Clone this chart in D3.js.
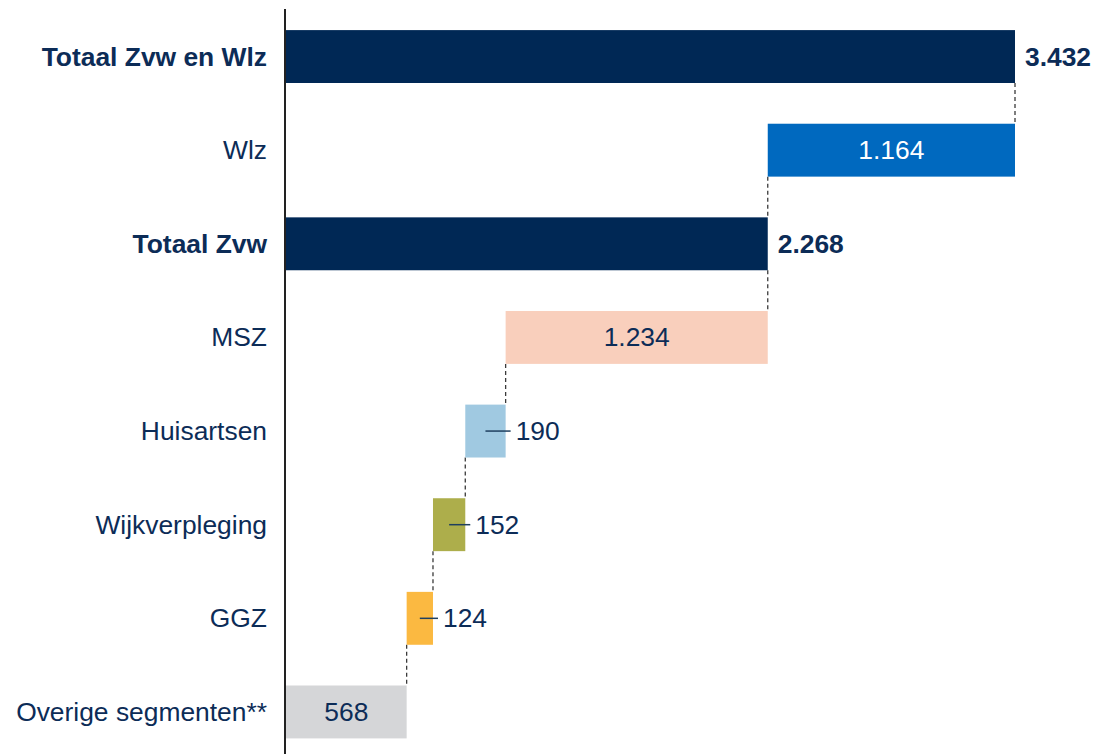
<!DOCTYPE html>
<html>
<head>
<meta charset="utf-8">
<script src="https://cdn.jsdelivr.net/npm/d3@7"></script>
<style>
  body { margin: 0; background: #fff; }
  text { font-family: "Liberation Sans", Arial, sans-serif; }
</style>
</head>
<body>
<svg id="chart"></svg>
<script>
// Data
const categories = ["Totaal Zvw en Wlz", "Wlz", "Totaal Zvw", "MSZ", "Huisartsen", "Wijkverpleging", "GGZ", "Overige segmenten**"];
const values = [3432, 1164, 2268, 1234, 190, 152, 124, 568];
const isTotal = [true, false, true, false, false, false, false, false];
const colors = ["#002855", "#0069bf", "#002855", "#f9cfbc", "#a0c9e1", "#adae4b", "#fbb941", "#d5d6d8"];

const width = 1094, height = 754;
const navy = "#0c2c57";
const fs = 26.4;

const svg = d3.select("#chart").attr("width", width).attr("height", height);

// build waterfall start/end
let level = 0;
const rows = categories.map(function(c, i){
    let s, e;
    if (isTotal[i]) { s = 0; e = values[i]; level = values[i]; }
    else { e = level; s = level - values[i]; level = s; }
    return {name: c, value: values[i], start: s, end: e, total: isTotal[i], color: colors[i]};
});

const x = d3.scaleLinear().domain([0, 3432]).range([286, 1015]);
const y = d3.scaleBand().domain(categories).range([9.5, 759]).paddingInner(0.435).paddingOuter(0.22);

const fmt = d => d3.format(",")(d).replace(/,/g, ".");

// dashed connectors between bars
const conn = svg.append("g");
rows.forEach(function(d, i){
    if (i == 0) return;
    const p = rows[i-1];
    const xv = p.total ? d.end : p.start;
    conn.append("line")
        .attr("x1", x(xv)).attr("x2", x(xv))
        .attr("y1", y(p.name) + y.bandwidth()).attr("y2", y(d.name))
        .attr("stroke", "#3a3a3a").attr("stroke-width", 1.3)
        .attr("stroke-dasharray", "4,3");
});

// bars
svg.append("g").selectAll("rect")
    .data(rows)
    .join("rect")
    .attr("x", d => x(d.start))
    .attr("width", d => x(d.end) - x(d.start))
    .attr("y", d => y(d.name))
    .attr("height", y.bandwidth())
    .attr("fill", d => d.color);

// axis line
svg.append("line")
    .attr("x1", 285).attr("x2", 285).attr("y1", 9).attr("y2", height)
    .attr("stroke", "#222").attr("stroke-width", 2);

// category labels
svg.append("g").selectAll("text")
    .data(rows)
    .join("text")
    .attr("x", 267)
    .attr("y", d => y(d.name) + y.bandwidth()/2)
    .attr("text-anchor", "end")
    .attr("dominant-baseline", "central")
    .attr("font-size", fs)
    .attr("font-weight", d => d.total ? "bold" : "normal")
    .attr("fill", navy)
    .text(d => d.name);

// value labels
const vl = svg.append("g");
rows.forEach(function(d){
    const cy = y(d.name) + y.bandwidth()/2;
    const w = x(d.end) - x(d.start);
    if (d.total) {
        vl.append("text").attr("x", x(d.end) + 10).attr("y", cy)
            .attr("dominant-baseline", "central").attr("font-size", fs)
            .attr("font-weight", "bold").attr("fill", navy).text(fmt(d.value));
    } else if (w > 100) {
        vl.append("text").attr("x", (x(d.start) + x(d.end))/2).attr("y", cy)
            .attr("text-anchor", "middle")
            .attr("dominant-baseline", "central").attr("font-size", fs)
            .attr("fill", d.color == "#0069bf" ? "#fff" : navy).text(fmt(d.value));
    } else {
        vl.append("line")
            .attr("x1", (x(d.start) + x(d.end))/2).attr("x2", x(d.end) + 5)
            .attr("y1", cy).attr("y2", cy)
            .attr("stroke", "#1f3f5f").attr("stroke-width", 1.5);
        vl.append("text").attr("x", x(d.end) + 10).attr("y", cy)
            .attr("dominant-baseline", "central").attr("font-size", fs)
            .attr("fill", navy).text(fmt(d.value));
    }
});
</script>
</body>
</html>
